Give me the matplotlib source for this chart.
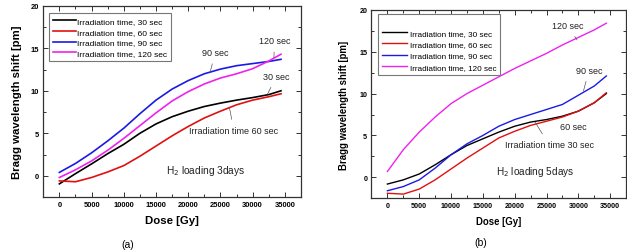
import matplotlib

matplotlib.use("Agg")
import matplotlib.pyplot as plt
from matplotlib.ticker import MultipleLocator

plt.rcParams["font.family"] = ["Liberation Sans", "DejaVu Sans"]

dose = [0, 2500, 5000, 7500, 10000, 12500, 15000, 17500, 20000,
        22500, 25000, 27500, 30000, 32500, 34400]

# (a) H2 loading 3 days
a_30 = [-0.95, 0.25, 1.4, 2.6, 3.7, 5.0, 6.1, 6.95, 7.6, 8.15, 8.55, 8.9, 9.2, 9.55, 10.0]
a_60 = [-0.6, -0.7, -0.2, 0.45, 1.2, 2.3, 3.5, 4.7, 5.8, 6.8, 7.6, 8.35, 8.9, 9.3, 9.65]
a_90 = [0.4, 1.45, 2.7, 4.1, 5.6, 7.3, 8.9, 10.2, 11.2, 12.0, 12.55, 12.95, 13.2, 13.45, 13.7]
a_120 = [-0.2, 0.7, 1.75, 3.0, 4.4, 5.9, 7.4, 8.8, 9.9, 10.8, 11.5, 12.0, 12.6, 13.5, 14.3]

# (b) H2 loading 5 days
b_30 = [-0.8, -0.3, 0.4, 1.5, 2.7, 3.8, 4.6, 5.4, 6.1, 6.6, 6.9, 7.3, 7.9, 8.9, 10.0]
b_60 = [-1.9, -2.0, -1.4, -0.3, 1.0, 2.3, 3.5, 4.7, 5.5, 6.2, 6.7, 7.2, 7.9, 8.9, 10.1]
b_90 = [-1.6, -1.1, -0.3, 1.1, 2.7, 4.0, 5.0, 6.1, 6.9, 7.5, 8.1, 8.7, 9.8, 10.9, 12.1]
b_120 = [0.7, 3.3, 5.4, 7.2, 8.8, 10.0, 11.0, 12.0, 13.0, 13.9, 14.8, 15.8, 16.7, 17.6, 18.4]

labels = ["Irradiation time, 30 sec", "Irradiation time, 60 sec",
          "Irradiation time, 90 sec", "Irradiation time, 120 sec"]
colors = ["black", "#e01010", "#1a1ae6", "#ee22ee"]

# (text, text xy, arrow tip xy) in data coords
notes_a = [
    ("90 sec", (24200, 14.5), (23400, 12.2)),
    ("120 sec", (33400, 15.9), (33300, 13.9)),
    ("30 sec", (33700, 11.7), (32300, 9.6)),
    ("Irradiation time 60 sec", (27100, 5.3), (26400, 8.0)),
]
notes_b = [
    ("120 sec", (28300, 18.1), (29800, 16.4)),
    ("90 sec", (31700, 12.8), (30800, 10.3)),
    ("60 sec", (29200, 6.1), (27400, 7.3)),
    ("Irradiation time 30 sec", (25400, 3.9), (23200, 6.6)),
]


def style_axes(ax, tick_fs, label_fs):
    ax.set_xlim(-2500, 37500)
    ax.set_ylim(-2.5, 20)
    ax.xaxis.set_major_locator(MultipleLocator(5000))
    ax.xaxis.set_minor_locator(MultipleLocator(2500))
    ax.yaxis.set_major_locator(MultipleLocator(5))
    ax.yaxis.set_minor_locator(MultipleLocator(2.5))
    ax.tick_params(which="both", direction="in", top=True, right=True,
                   width=0.7, colors="#333333", labelcolor="black")
    ax.tick_params(which="major", length=3.5, labelsize=tick_fs, pad=3)
    ax.tick_params(which="minor", length=2)
    for lab in ax.get_xticklabels() + ax.get_yticklabels():
        lab.set_fontweight("bold")
    for sp in ax.spines.values():
        sp.set_linewidth(0.9)
        sp.set_color("#333333")
    ax.set_xlabel("Dose [Gy]", fontsize=label_fs, fontweight="bold")
    ax.set_ylabel("Bragg wavelength shift [pm]", fontsize=label_fs, fontweight="bold")


def draw_notes(ax, notes, fs):
    for text, xy_text, xy_tip in notes:
        ax.annotate(text, xy=xy_tip, xytext=xy_text, fontsize=fs,
                    ha="center", va="center", color="#222222",
                    arrowprops=dict(arrowstyle="-", color="#555555", lw=0.5,
                                    shrinkA=3, shrinkB=0))


fig = plt.figure(figsize=(6.27, 2.51), dpi=100)

ax_a = fig.add_axes([0.069, 0.211, 0.411, 0.762])
for ys, lab, c in zip([a_30, a_60, a_90, a_120], labels, colors):
    ax_a.plot(dose, ys, color=c, lw=1.2, label=lab)
style_axes(ax_a, 5.4, 8.2)
ax_a.xaxis.labelpad = 5
ax_a.yaxis.labelpad = 6
leg = ax_a.legend(loc="upper left", bbox_to_anchor=(0.023, 0.962), borderaxespad=0,
                  fontsize=6.0, handlelength=2.7, handletextpad=0.1,
                  labelspacing=0.35, fancybox=False, edgecolor="#777777",
                  borderpad=0.5, framealpha=1)
leg.get_frame().set_linewidth(0.8)
draw_notes(ax_a, notes_a, 6.5)
ax_a.text(22700, 0.65, "H$_2$ loading 3days", fontsize=7.3, ha="center",
          va="center", color="#222222")

ax_b = fig.add_axes([0.5925, 0.206, 0.406, 0.751])
for ys, lab, c in zip([b_30, b_60, b_90, b_120], labels, colors):
    ax_b.plot(dose, ys, color=c, lw=1.0, label=lab)
style_axes(ax_b, 5.1, 6.9)
ax_b.xaxis.labelpad = 5
ax_b.yaxis.labelpad = 7
leg = ax_b.legend(loc="upper left", bbox_to_anchor=(0.027, 0.977), borderaxespad=0,
                  fontsize=5.9, handlelength=3.0, handletextpad=0.3,
                  labelspacing=0.45, fancybox=False, edgecolor="#777777",
                  borderpad=0.5, framealpha=1, title=" ", title_fontsize=6)
leg.get_frame().set_linewidth(0.8)
draw_notes(ax_b, notes_b, 6.5)
ax_b.text(23200, 0.8, "H$_2$ loading 5days", fontsize=7.2, ha="center",
          va="center", color="#222222")

fig.text(0.203, 0.024, "(a)", fontsize=7.5, ha="center", va="center")
fig.text(0.766, 0.032, "(b)", fontsize=7.5, ha="center", va="center")

fig.savefig("out.png", dpi=100)
